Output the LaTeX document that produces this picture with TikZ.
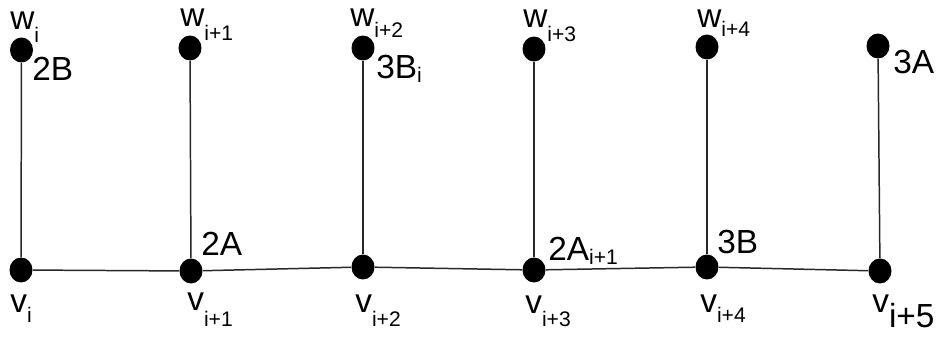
\documentclass[tikz,border=0pt]{standalone}
\usepackage{fontspec}
\setmainfont{Liberation Sans}
\usepackage{tikz}
\usetikzlibrary{shapes.geometric}
\definecolor{edgegray}{RGB}{40,40,40}
%% lowered small index after a label
\newcommand{\idx}[2]{\raisebox{-#1}{\fontsize{12}{13}\selectfont #2}}

\begin{document}
\begin{tikzpicture}[x=0.02cm, y=-0.02cm,
  dot/.style={ellipse, fill=black, draw=none, minimum width=0.46cm, minimum height=0.5cm, inner sep=0pt},
  lbl/.style={anchor=base west, inner sep=0pt, font=\fontsize{19}{22}\selectfont},
  edge/.style={draw=edgegray, line width=0.85pt}]
  \useasboundingbox (0,0) rectangle (938,338);

  %% upper vertices
  \node[dot] (w0) at (21.5,50) {};
  \node[dot] (w1) at (190,48) {};
  \node[dot] (w2) at (363,48) {};
  \node[dot] (w3) at (534,49) {};
  \node[dot] (w4) at (707,47) {};
  \node[dot] (w5) at (878,46) {};

  %% lower vertices (the path)
  \node[dot] (v0) at (21,270) {};
  \node[dot] (v1) at (191,271) {};
  \node[dot] (v2) at (363,267) {};
  \node[dot] (v3) at (534,270) {};
  \node[dot] (v4) at (707,267) {};
  \node[dot] (v5) at (880,271) {};

  %% edges
  \foreach \k in {0,...,5} {
    \draw[edge] (w\k) -- (v\k);
  }
  \draw[edge] (v0) -- (v1) -- (v2) -- (v3) -- (v4) -- (v5);

  %% vertex names
  \node[lbl] (lw0) at (10,30) {w\idx{7.4pt}{i}};
  \node[lbl] (lw1) at (180,27) {w\idx{7.4pt}{i+1}};
  \node[lbl] (lw2) at (350,27) {w\idx{5.7pt}{i+2}};
  \node[lbl] (lw3) at (523,28) {w\idx{7.9pt}{i+3}};
  \node[lbl] (lw4) at (697,28) {w\idx{5.1pt}{i+4}};

  \node[lbl] (lv0) at (10,312) {v\idx{6.2pt}{i}};
  \node[lbl] (lv1) at (187,310) {v\idx{9.6pt}{i+1}};
  \node[lbl] (lv2) at (355,312) {v\idx{8.5pt}{i+2}};
  \node[lbl] (lv3) at (525,313) {v\idx{7.9pt}{i+3}};
  \node[lbl] (lv4) at (700,312) {v\idx{5.7pt}{i+4}};
  \node[lbl] (lv5) at (872,312) {v\raisebox{-9.1pt}{i+5}};

  %% colour classes
  \node[lbl] (c2B) at (32,80) {2B};
  \node[lbl] (c3Bi) at (376,78) {3B\idx{2.3pt}{i}};
  \node[lbl] (c3A) at (893,73) {3A};
  \node[lbl] (c2A) at (201,255) {2A};
  \node[lbl] (c2Ai) at (548,260) {2A\idx{2.8pt}{i+1}};
  \node[lbl] (c3B) at (717,253) {3B};
\end{tikzpicture}
\end{document}
